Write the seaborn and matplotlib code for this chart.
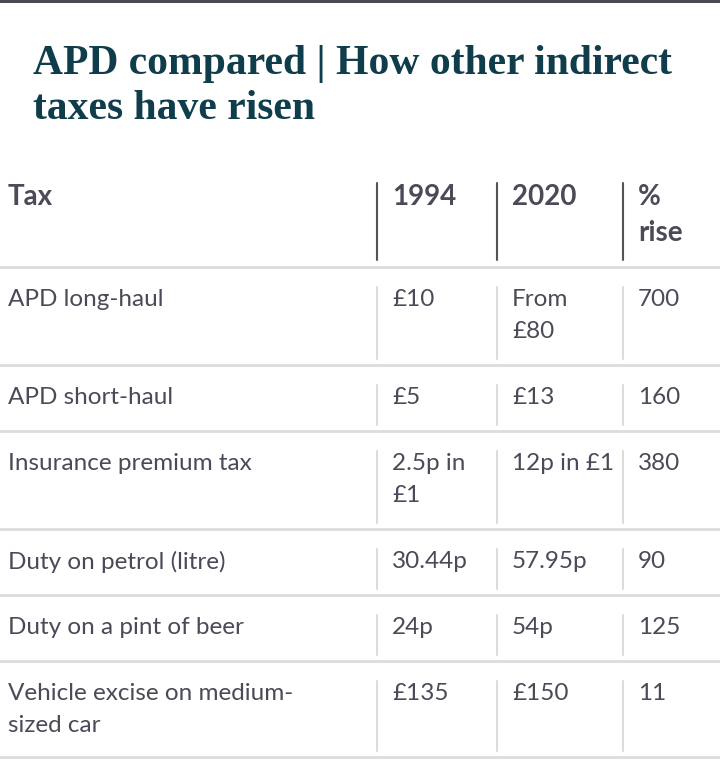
import matplotlib.pyplot as plt
import seaborn as sns

# table content
headers = ["Tax", "1994", "2020", "%\nrise"]
taxes = ["APD long-haul", "APD short-haul", "Insurance premium tax",
         "Duty on petrol (litre)", "Duty on a pint of beer",
         "Vehicle excise on medium-\nsized car"]
tax_1994 = ["£10", "£5", "2.5p in\n£1", "30.44p", "24p", "£135"]
tax_2020 = ["From\n£80", "£13", "12p in £1", "57.95p", "54p", "£150"]
pct_rise = ["700", "160", "380", "90", "125", "11"]
title_lines = ["APD compared | How other indirect", "taxes have risen"]

sns.set_theme(style="white")
plt.rcParams['font.family'] = ['Lato', 'DejaVu Sans']

TEXT = "#4a4a58"
TITLE = "#0f3d4c"
GRID = "#dcdcdc"

fig = plt.figure(figsize=(7.2, 7.8), dpi=100)
ax = fig.add_axes([0, 0, 1, 1])
ax.set_xlim(0, 720)
ax.set_ylim(780, 0)
ax.axis("off")

# top rule
ax.axhline(1, color="#4a4a52", lw=2.2)

for k, line in enumerate(title_lines):
    ax.text(33, 74 + k * 45, line, family=["Liberation Serif"],
            fontweight="bold", fontsize=30, color=TITLE, va="baseline")

col_x = [8, 392, 512, 638]
sep_x = [377, 497, 623]
row_lines = [267, 365, 431, 529, 595, 661, 757]


def cell(x, y, s, step, **kw):
    # one text per line so each line sits at a fixed step
    for k, part in enumerate(s.split("\n")):
        ax.text(x, y + k * step, part, va="center", color=TEXT, **kw)


# header
for x, h in zip(col_x, headers):
    cell(x, 197, h, 36, fontsize=20, fontweight="bold")
for x in sep_x:
    ax.plot([x, x], [183, 260], color="#555555", lw=1.5)

for y in row_lines:
    ax.axhline(y, color=GRID, lw=2)

columns = [taxes, tax_1994, tax_2020, pct_rise]
for i in range(len(taxes)):
    top = row_lines[i]
    bottom = row_lines[i + 1]
    for x, col in zip(col_x, columns):
        cell(x, top + 33, col[i], 31, fontsize=17.5)
    for x in sep_x:
        ax.plot([x, x], [top + 20, bottom - 6], color=GRID, lw=1.5)

fig.savefig("out.png", dpi=100)
